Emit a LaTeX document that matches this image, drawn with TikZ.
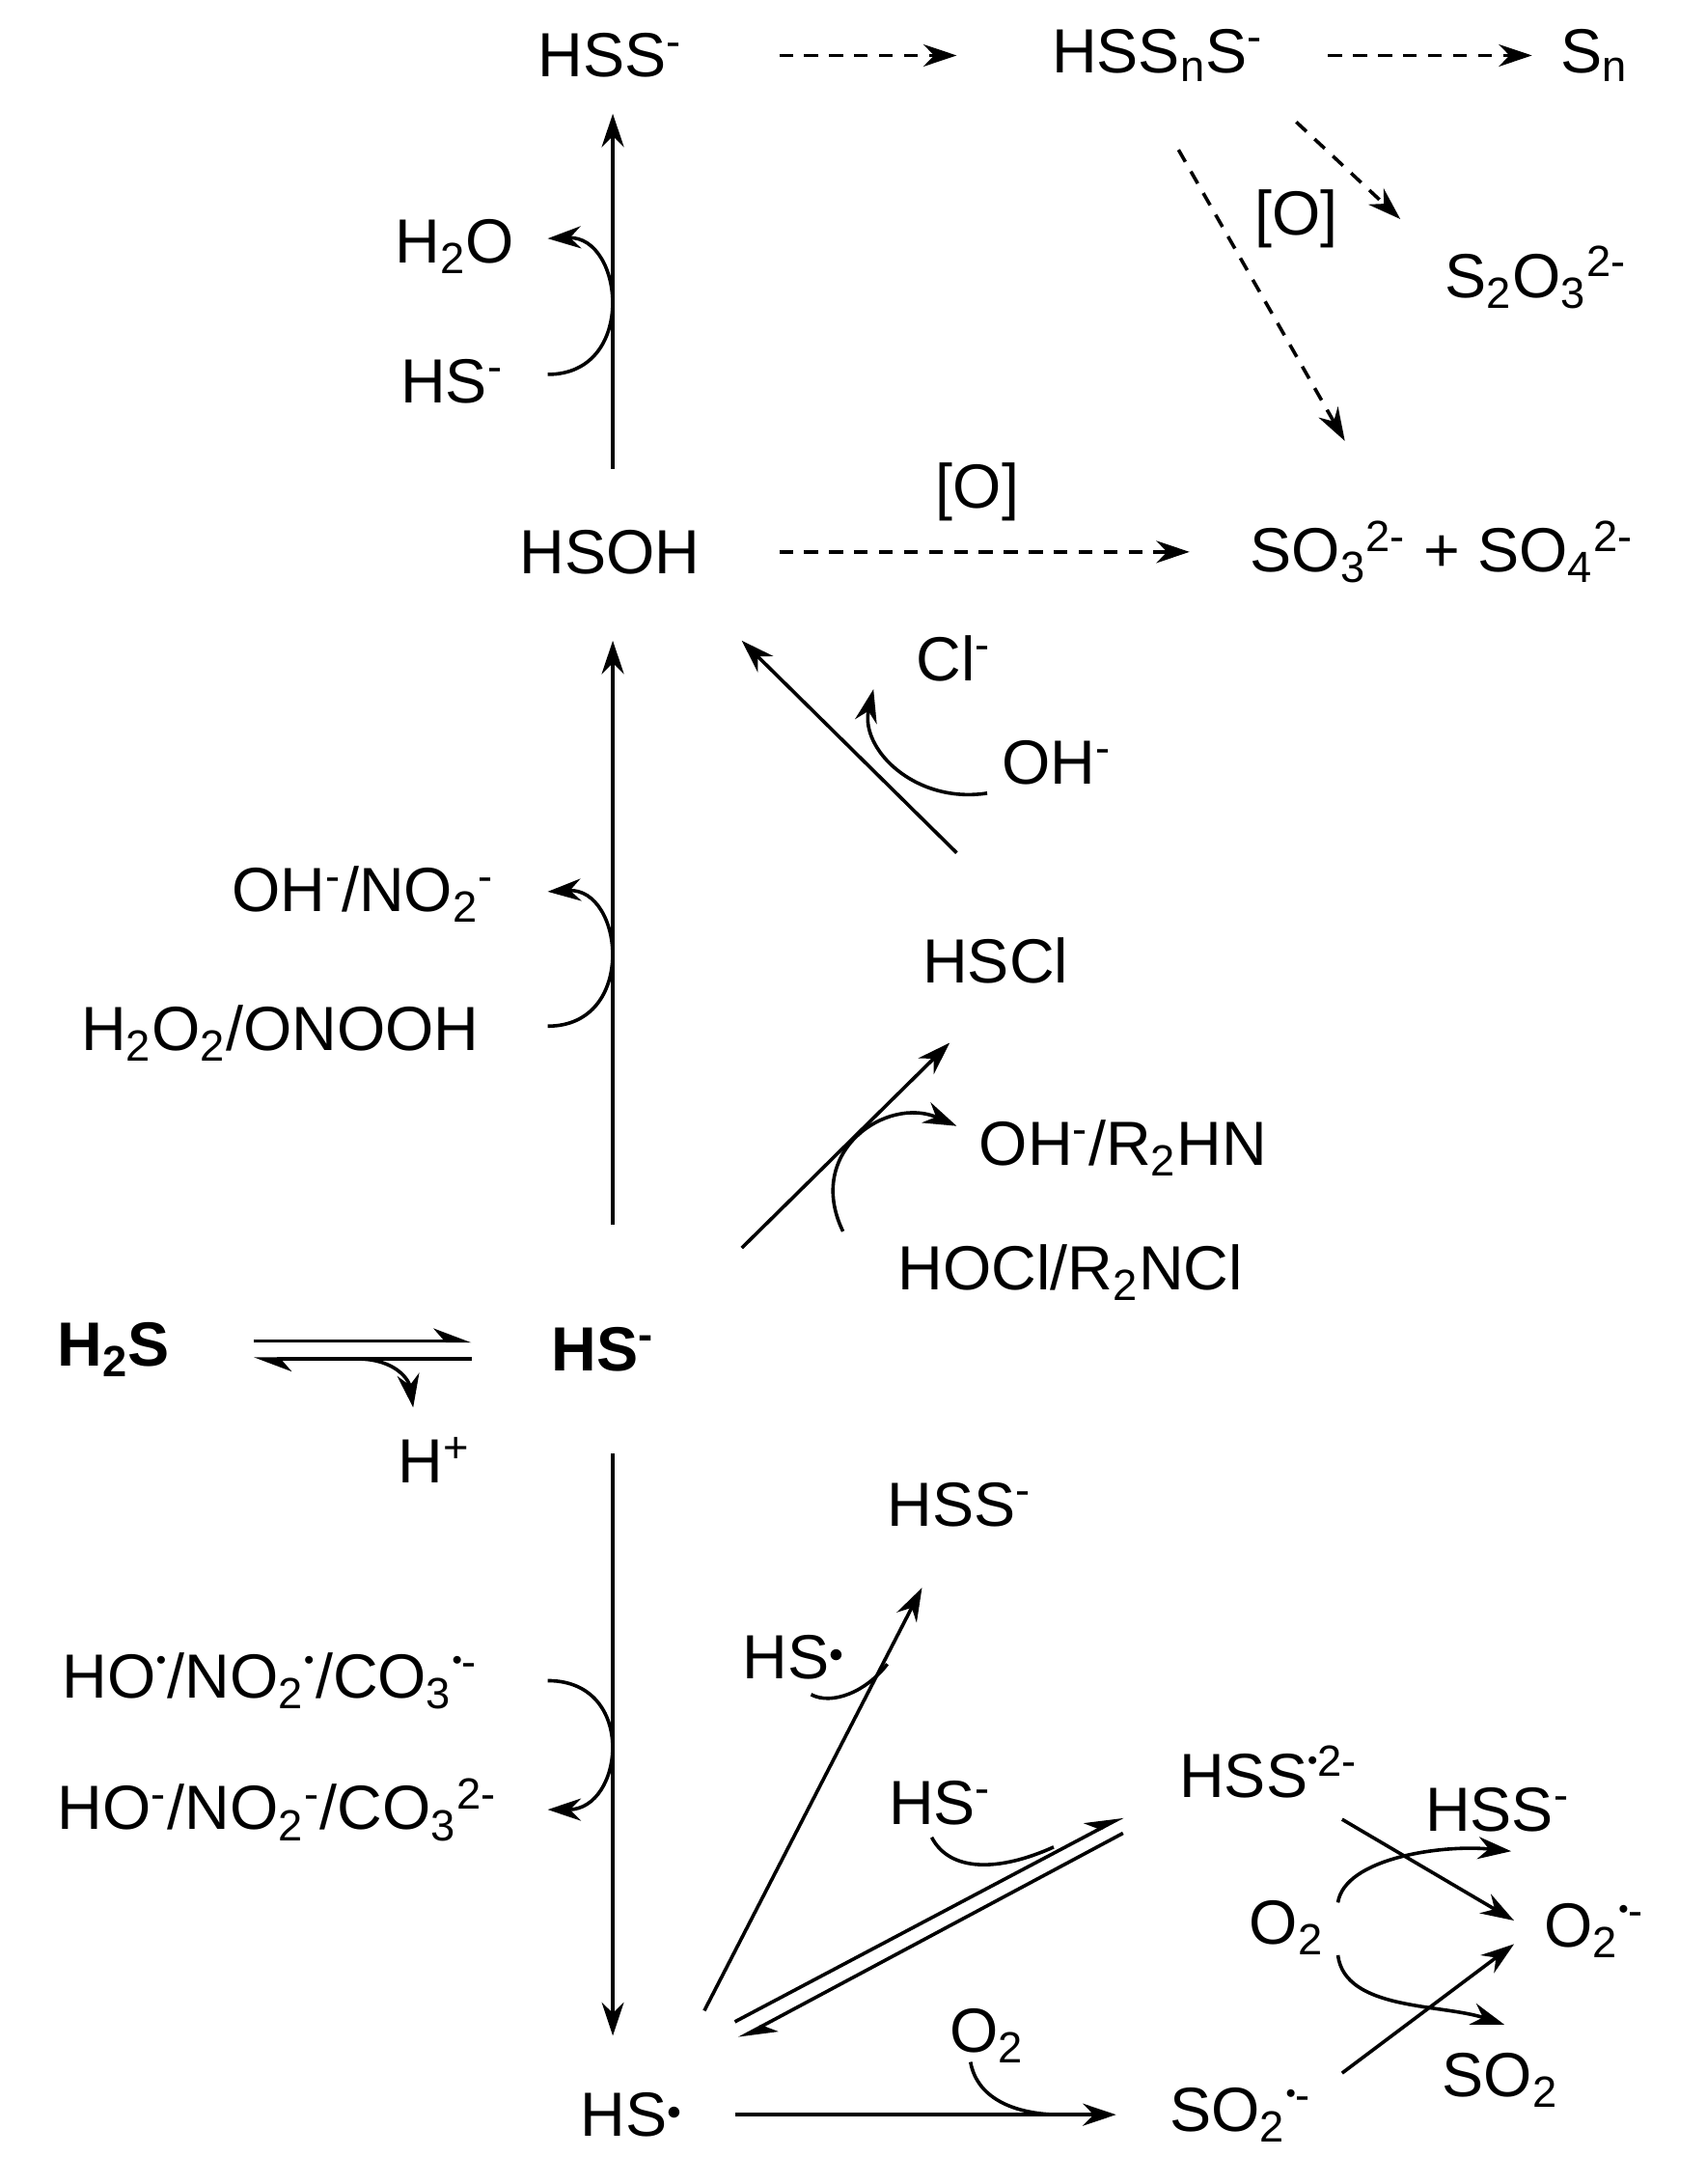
\documentclass[tikz,border=0pt]{standalone}
\usepackage{fontspec}
\setmainfont{Liberation Sans}
\usetikzlibrary{arrows.meta}
\newcommand\dn[1]{\textsubscript{#1}}
\newcommand\up[1]{\textsuperscript{#1}}
\newcommand\rdot{\raisebox{0.5ex}{\scalebox{0.5}{$\bullet$}}}
\begin{document}
\begin{tikzpicture}[x=0.5pt,y=-0.5pt,
  lbl/.style={font=\fontsize{22.5}{26}\selectfont,inner sep=1pt},
  ar/.style={-{Stealth[length=12pt,width=8pt]},line width=1.25pt},
  pl/.style={line width=1.25pt},
  hp/.style={pl,-{Stealth[left,length=12pt,width=9pt]}},
  da/.style={ar,dashed,dash pattern=on 5pt off 4pt}]
\useasboundingbox (0,0) rectangle (1230,1575);
\node[lbl] (hss1) at (440,40) {HSS\up{-}};
\node[lbl] (hssn) at (835,40) {HSS\dn{n}S\up{-}};
\node[lbl] (sn) at (1150,40) {S\dn{n}};
\node[lbl] (h2o) at (328,178) {H\dn{2}O};
\node[lbl] (hsa) at (326,275) {HS\up{-}};
\node[lbl] (o1) at (935,158) {[O]};
\node[lbl] (s2o3) at (1108,200) {S\dn{2}O\dn{3}\up{2-}};
\node[lbl] (hsoh) at (440,398) {HSOH};
\node[lbl] (o2l) at (705,355) {[O]};
\node[lbl] (so3) at (1040,398) {SO\dn{3}\up{2-} + SO\dn{4}\up{2-}};
\node[lbl] (cl) at (688,475) {Cl\up{-}};
\node[lbl] (oh) at (762,550) {OH\up{-}};
\node[lbl] (ohno2) at (262,645) {OH\up{-}/NO\dn{2}\up{-}};
\node[lbl] (hscl) at (718,693) {HSCl};
\node[lbl] (h2o2) at (202,745) {H\dn{2}O\dn{2}/ONOOH};
\node[lbl] (ohr) at (810,828) {OH\up{-}/R\dn{2}HN};
\node[lbl] (hocl) at (772,918) {HOCl/R\dn{2}NCl};
\node[lbl,font=\fontsize{22.5}{26}\selectfont\bfseries] (h2s) at (82,973) {H\dn{2}S};
\node[lbl,font=\fontsize{22.5}{26}\selectfont\bfseries] (hs) at (435,973) {HS\up{-}};
\node[lbl] (hplus) at (313,1053) {H\up{+}};
\node[lbl] (hss2) at (692,1085) {HSS\up{-}};
\node[lbl] (hsr) at (572,1195) {HS\rdot};
\node[lbl] (rad) at (195,1212) {HO\up{\rdot}/NO\dn{2}\up{\rdot}/CO\dn{3}\up{\rdot-}};
\node[lbl] (anion) at (200,1305) {HO\up{-}/NO\dn{2}\up{-}/CO\dn{3}\up{2-}};
\node[lbl] (hsb) at (678,1300) {HS\up{-}};
\node[lbl] (hssr) at (915,1278) {HSS\up{\rdot2-}};
\node[lbl] (hss3) at (1080,1305) {HSS\up{-}};
\node[lbl] (o2a) at (928,1390) {O\dn{2}};
\node[lbl] (sup) at (1150,1392) {O\dn{2}\up{\rdot-}};
\node[lbl] (o2b) at (712,1468) {O\dn{2}};
\node[lbl] (so2) at (1082,1500) {SO\dn{2}};
\node[lbl] (hsrad) at (455,1525) {HS\rdot};
\node[lbl] (so2r) at (895,1525) {SO\dn{2}\up{\rdot-}};
\coordinate (t1) at (442,82);
% top
\draw[ar] (442,338) -- (t1);
\draw[ar] (395,270) .. controls (460,270) and (450,170) .. (395,172);
\draw[da] (562,40) -- (690,40);
\draw[da] (958,40) -- (1105,40);
\draw[da] (935,88) -- (1010,158);
\draw[da] (850,108) -- (970,318);
\draw[da] (562,398) -- (858,398);
% middle
\draw[ar] (442,883) -- (442,462);
\draw[ar] (395,740) .. controls (460,740) and (450,640) .. (395,643);
\draw[ar] (690,615) -- (535,462);
\draw[ar] (712,572) .. controls (660,580) and (620,540) .. (630,497);
\draw[ar] (535,900) -- (685,752);
\draw[ar] (608,888) .. controls (580,830) and (640,790) .. (690,812);
\draw[hp] (183,967) -- (340,967);
\draw[hp] (340,980) -- (183,980);
\draw[ar] (258,980) .. controls (285,980) and (295,995) .. (298,1015);
% bottom
\draw[ar] (442,1048) -- (442,1468);
\draw[ar] (395,1212) .. controls (460,1212) and (450,1305) .. (395,1305);
\draw[ar] (508,1450) -- (665,1145);
\draw[pl] (585,1222) .. controls (600,1230) and (625,1220) .. (640,1200);
\draw[hp] (530,1458) -- (810,1310);
\draw[hp] (810,1322) -- (533,1470);
\draw[pl] (672,1325) .. controls (685,1350) and (720,1350) .. (760,1332);
\draw[ar] (530,1525) -- (805,1525);
\draw[pl] (700,1487) .. controls (705,1515) and (735,1525) .. (765,1525);
\draw[ar] (968,1312) -- (1092,1385);
\draw[ar] (965,1372) .. controls (970,1340) and (1040,1330) .. (1090,1335);
\draw[ar] (968,1495) -- (1092,1402);
\draw[ar] (965,1410) .. controls (970,1450) and (1040,1445) .. (1085,1460);
\end{tikzpicture}
\end{document}
